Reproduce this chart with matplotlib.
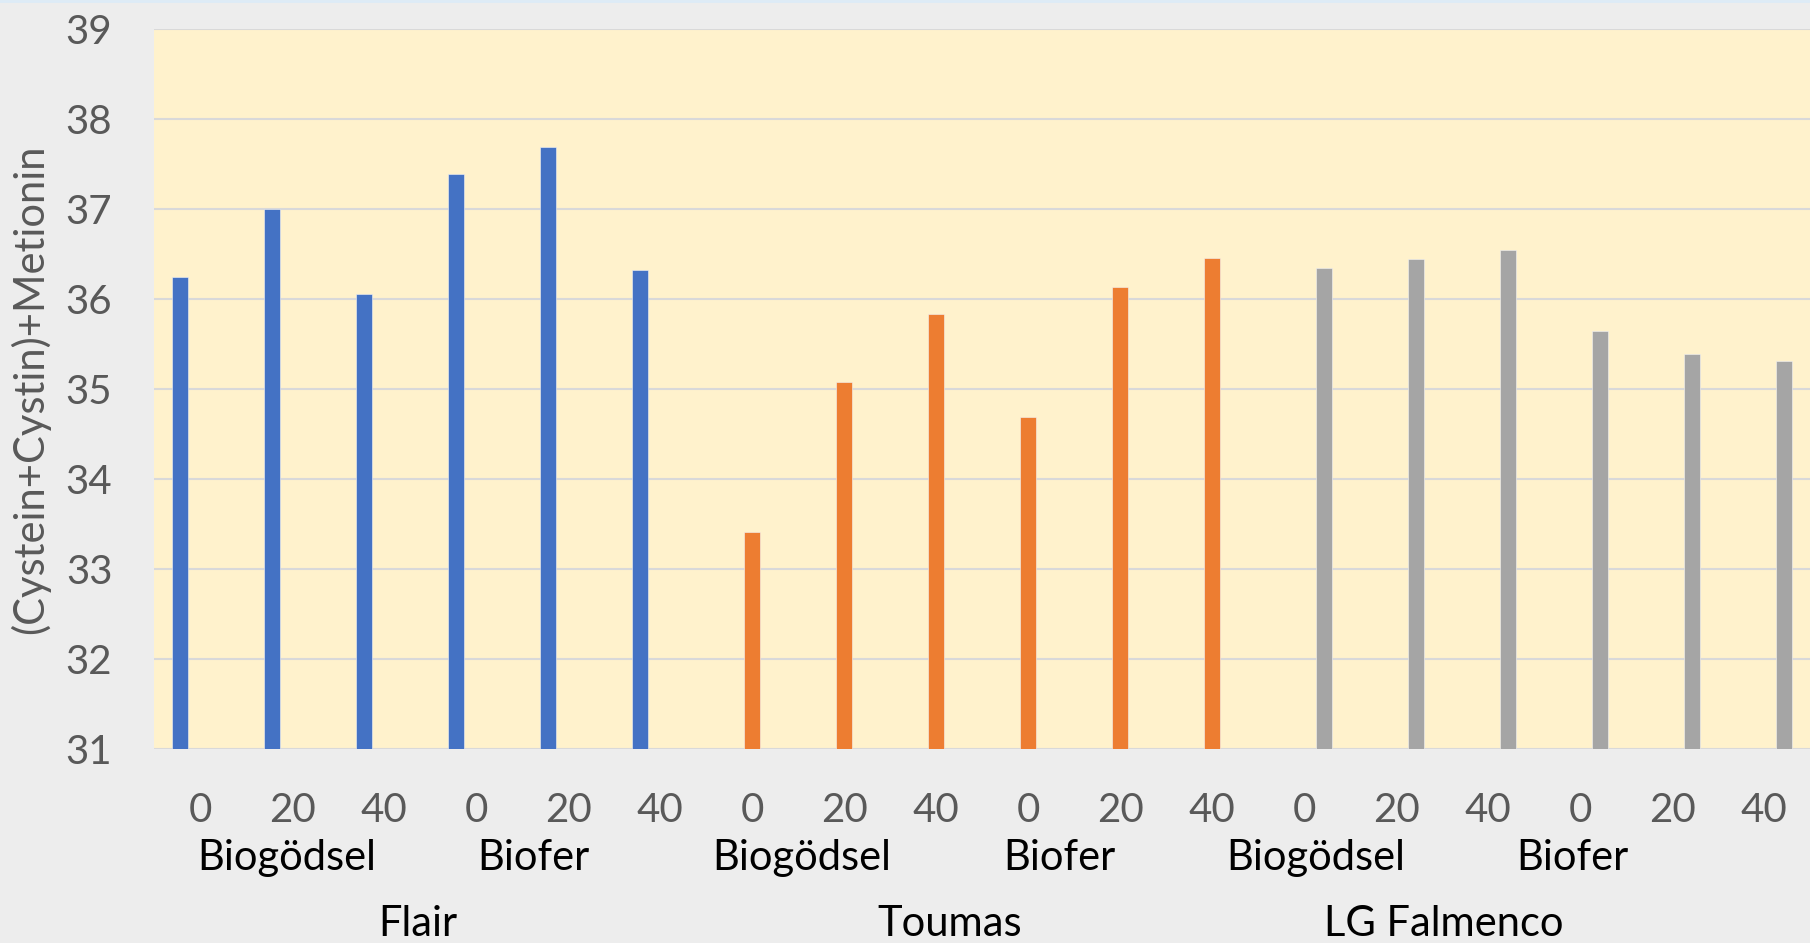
import numpy as np
import matplotlib
matplotlib.use("Agg")
import matplotlib.pyplot as plt

# ── data ────────────────────────────────────────────────────────────────
varieties = ["Flair", "Toumas", "LG Falmenco"]
fertilizers = ["Biogödsel", "Biofer"]
doses = ["0", "20", "40"]

flair = [36.25, 37.00, 36.06, 37.39, 37.69, 36.32]
toumas = [33.41, 35.08, 35.83, 34.69, 36.13, 36.46]
lg_falmenco = [36.34, 36.44, 36.54, 35.64, 35.39, 35.31]

y_label = "(Cystein+Cystin)+Metionin"

# ── style ───────────────────────────────────────────────────────────────
colors = ["#4472C4", "#ED7D31", "#A5A5A5"]
plot_bg = "#FFF2CC"
fig_bg = "#EDEDED"
grid_col = "#D9D9D9"
tick_col = "#595959"

plt.rcParams["font.family"] = ["Lato", "DejaVu Sans"]

fig = plt.figure(figsize=(18.10, 9.43), dpi=100, facecolor=fig_bg)
ax = fig.add_axes([0.0851, 0.2057, 0.9149, 0.7635])
ax.set_facecolor(plot_bg)

n_dose = len(doses)
n_per_var = len(fertilizers) * n_dose
n_cat = len(varieties) * n_per_var
bar_w = 0.174
offsets = [-0.217, 0.0, 0.217]

series = [flair, toumas, lg_falmenco]
for i, vals in enumerate(series):
    x = np.arange(len(vals)) + i * n_per_var + offsets[i]
    ax.bar(x, vals, width=bar_w, color=colors[i], edgecolor="#f4f4f4",
           linewidth=0.4, zorder=3)

ax.set_xlim(-0.5, n_cat - 0.5)
ax.set_ylim(31, 39)
ax.set_yticks(np.arange(31, 40, 1))
ax.grid(axis="y", color=grid_col, linewidth=1.5, zorder=0)
for s in ax.spines.values():
    s.set_visible(False)

ax.set_xticks(np.arange(n_cat))
ax.set_xticklabels(doses * (n_cat // n_dose))
ax.tick_params(axis="x", length=0, pad=31, labelsize=29, labelcolor=tick_col)
ax.tick_params(axis="y", length=0, pad=30, labelsize=29, labelcolor=tick_col)

ax.set_ylabel(y_label, fontsize=30, color=tick_col)
ax.yaxis.set_label_coords(-0.063, 0.5)

trans = ax.get_xaxis_transform()
# fertilizer row (the original drifts left of the group centres)
fert_shift = [-0.06, -0.38, -0.46, -0.66, -0.87, -1.08]
k = 0
for v in range(len(varieties)):
    for f, name in enumerate(fertilizers):
        c = v * n_per_var + f * n_dose + (n_dose - 1) / 2 + fert_shift[k]
        ax.text(c, -0.152, name, transform=trans, ha="center",
                va="center", fontsize=30, color="black")
        k += 1

# variety row
var_shift = [-0.13, -0.35, -0.98]
for v, name in enumerate(varieties):
    c = v * n_per_var + (n_per_var - 1) / 2 + var_shift[v]
    ax.text(c, -0.243, name, transform=trans, ha="center", va="center",
            fontsize=30, color="black")

fig.add_artist(plt.Line2D([0, 1], [0.999, 0.999], color="#DDEBF7",
                          linewidth=2, transform=fig.transFigure))

fig.savefig("out.png", dpi=100, facecolor=fig_bg)
